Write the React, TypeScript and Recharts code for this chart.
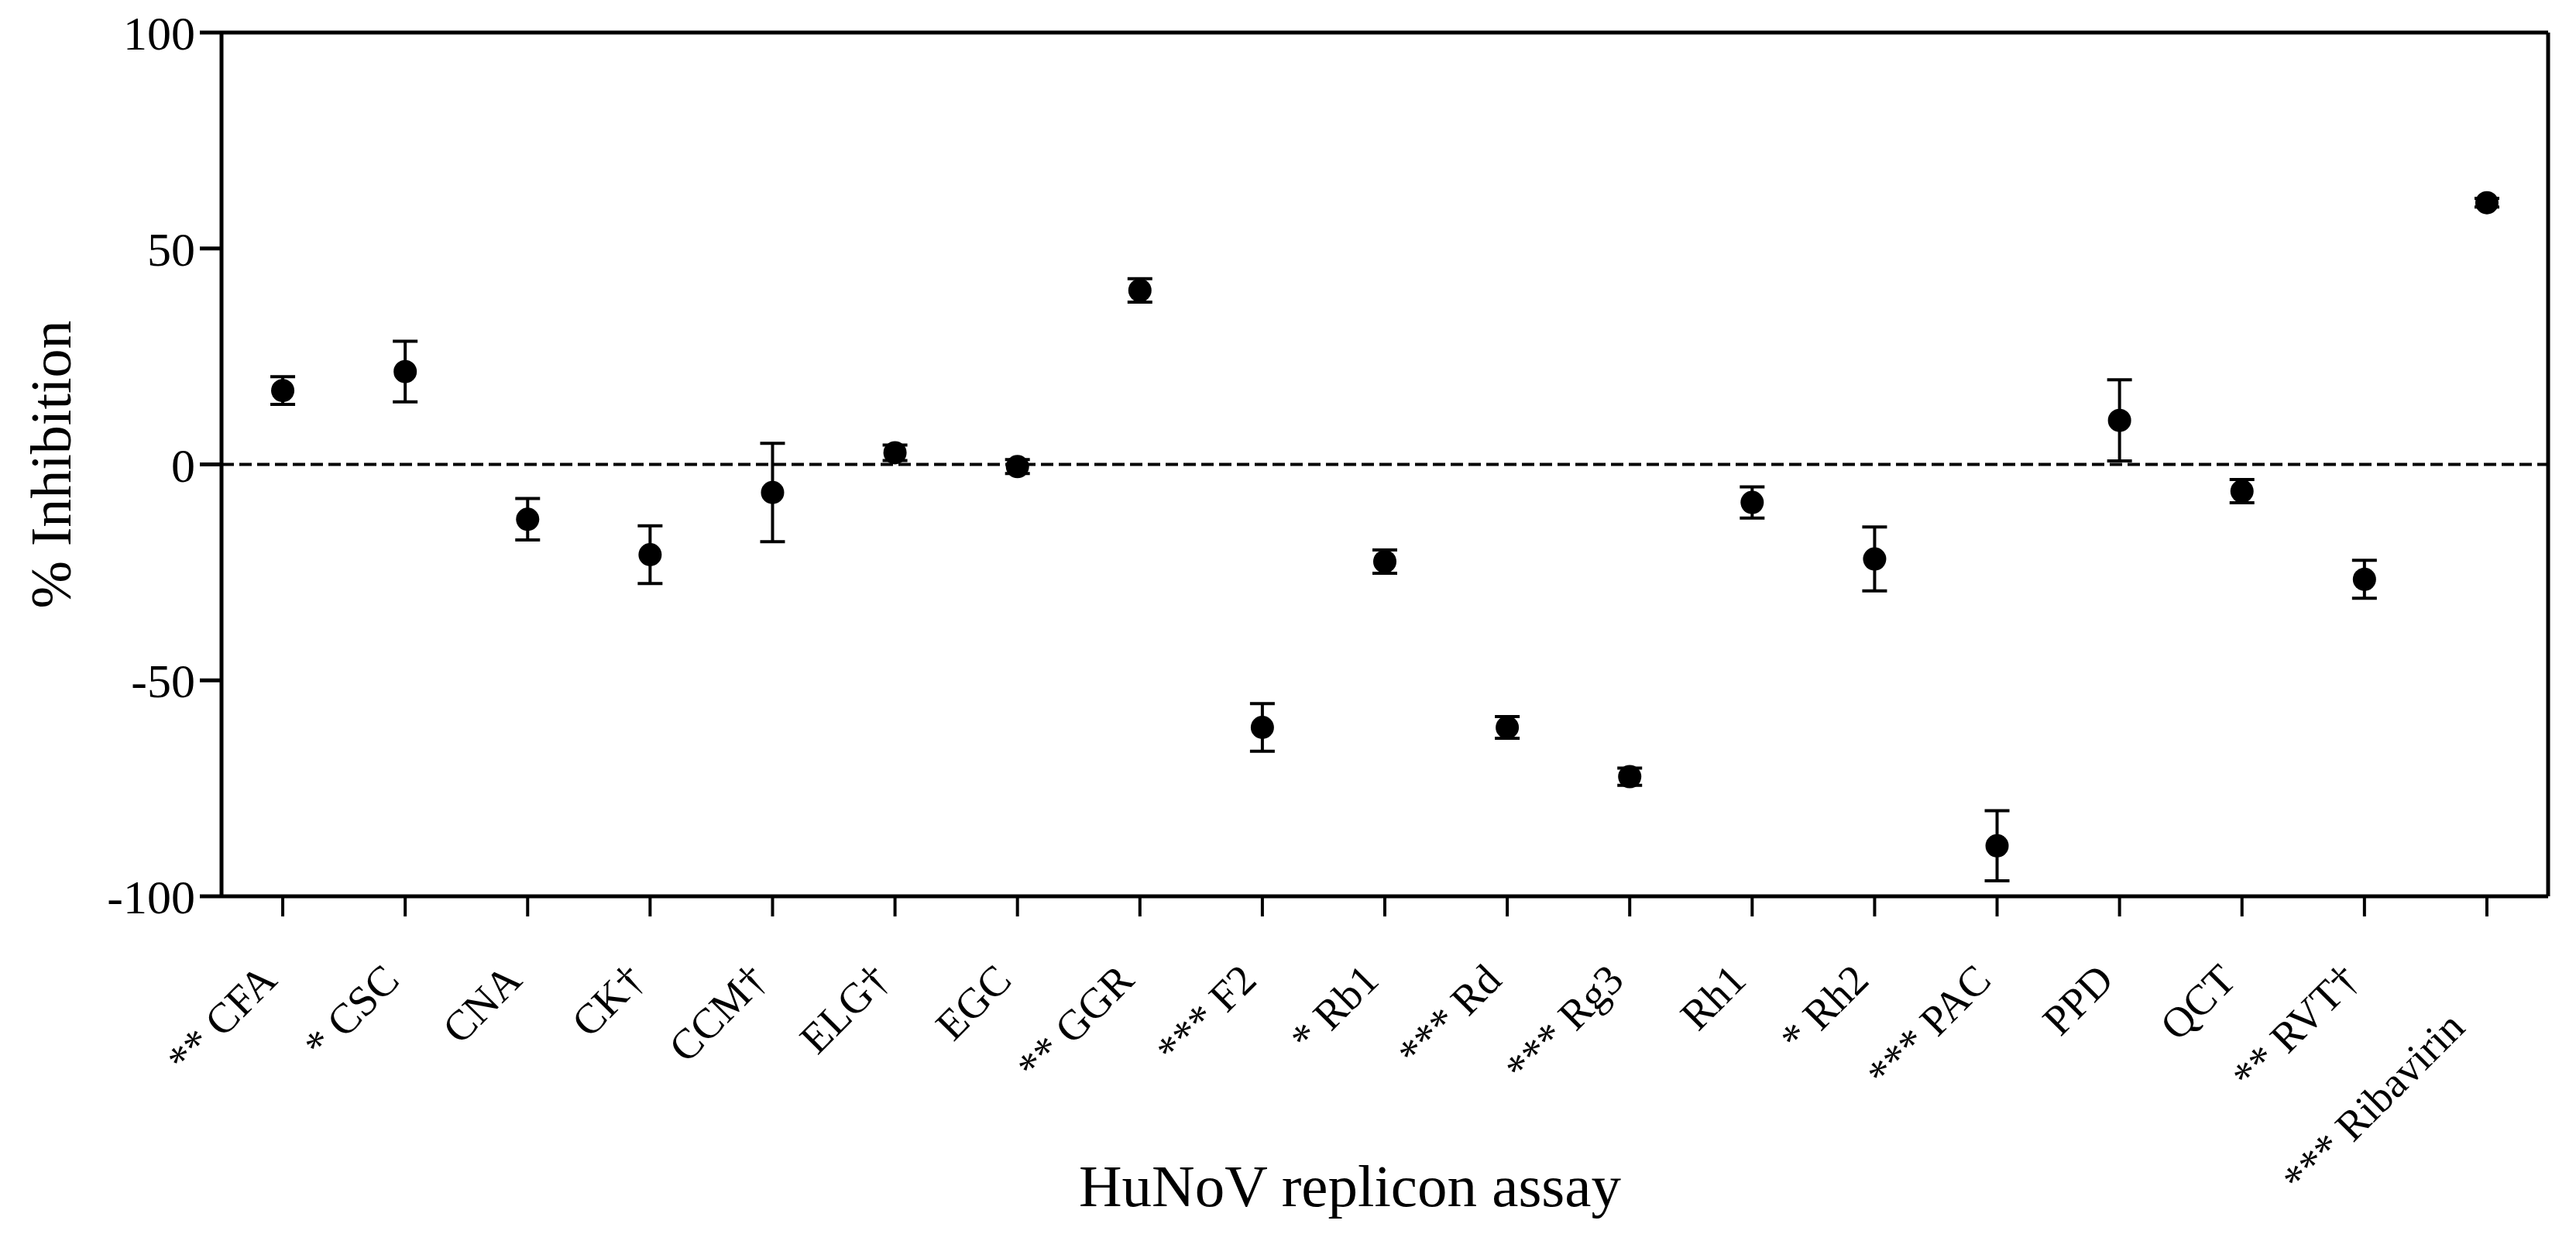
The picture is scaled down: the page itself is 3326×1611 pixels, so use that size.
import React from "react";
import {
  ComposedChart,
  Line,
  XAxis,
  YAxis,
  ErrorBar,
  ReferenceLine,
} from "recharts";

const categories = [
  "** CFA",
  "* CSC",
  "CNA",
  "CK\u2020",
  "CCM\u2020",
  "ELG\u2020",
  "EGC",
  "** GGR",
  "*** F2",
  "* Rb1",
  "*** Rd",
  "*** Rg3",
  "Rh1",
  "* Rh2",
  "*** PAC",
  "PPD",
  "QCT",
  "** RVT\u2020",
  "*** Ribavirin",
];

const inhibition = [
  17.1, 21.5, -12.7, -20.9, -6.5, 2.7, -0.5, 40.3, -60.9, -22.5, -60.9, -72.3,
  -8.8, -21.9, -88.3, 10.2, -6.2, -26.6, 60.6,
];

const sem = [
  3.2, 7.0, 4.8, 6.7, 11.4, 1.8, 1.6, 2.7, 5.5, 2.7, 2.5, 2.0, 3.6, 7.4, 8.1,
  9.4, 2.7, 4.4, 1.0,
];

const yTicks = [-100, -50, 0, 50, 100];

const data = categories.map((name, i) => ({
  name,
  value: inhibition[i],
  err: sem[i],
}));

const FONT = "'Liberation Serif', 'Times New Roman', serif";

const XTick = (props: any) => {
  const { x, y, payload, index } = props;
  const last = index === categories.length - 1;
  const dx = last ? -26 : -5;
  const dy = last ? 146 : 85;
  return (
    <g transform={`translate(${x + dx},${y + dy})`}>
      <text
        x={0}
        y={0}
        textAnchor="end"
        transform="rotate(-45)"
        fontSize={55}
        fontFamily={FONT}
        fill="#000"
      >
        {payload.value}
      </text>
    </g>
  );
};

const XTitle = (props: any) => {
  const { viewBox } = props;
  if (!viewBox) return null;
  return (
    <text
      x={viewBox.x + viewBox.width / 2 - 45}
      y={viewBox.y + 400}
      textAnchor="middle"
      fontSize={77}
      fontFamily={FONT}
      fill="#000"
    >
      HuNoV replicon assay
    </text>
  );
};

const YTitle = (props: any) => {
  const { viewBox } = props;
  if (!viewBox) return null;
  const cx = viewBox.x + 58;
  const cy = viewBox.y + viewBox.height / 2;
  return (
    <text
      x={cx}
      y={cy}
      textAnchor="middle"
      dominantBaseline="central"
      transform={`rotate(-90, ${cx}, ${cy})`}
      fontSize={74}
      fontFamily={FONT}
      fill="#000"
    >
      % Inhibition
    </text>
  );
};

const Dot = (props: any) => {
  const { cx, cy, index } = props;
  if (cx == null || cy == null) return <g key={`d-${index}`} />;
  return <circle key={`d-${index}`} cx={cx} cy={cy} r={15} fill="#000" />;
};

export default function App() {
  return (
    <div style={{ width: 3310, height: 1595 }}>
      <ComposedChart
        width={3310}
        height={1595}
        data={data}
        margin={{ top: 33, right: 27, left: 0, bottom: 0 }}
      >
        <XAxis
          dataKey="name"
          type="category"
          scale="band"
          xAxisId={0}
          height={446}
          interval={0}
          tickSize={26}
          tickMargin={0}
          axisLine={{ stroke: "#000", strokeWidth: 5 }}
          tickLine={{ stroke: "#000", strokeWidth: 4 }}
          tick={<XTick />}
          label={<XTitle />}
        />
        <XAxis
          xAxisId="top"
          orientation="top"
          dataKey="name"
          type="category"
          scale="band"
          height={1}
          tick={false}
          tickLine={false}
          axisLine={{ stroke: "#000", strokeWidth: 5 }}
        />
        <YAxis
          yAxisId={0}
          type="number"
          domain={[-100, 100]}
          ticks={yTicks}
          interval={0}
          width={278}
          tickSize={28}
          tickMargin={6}
          axisLine={{ stroke: "#000", strokeWidth: 5 }}
          tickLine={{ stroke: "#000", strokeWidth: 5 }}
          tick={{ fontSize: 62, fontFamily: FONT, fill: "#000" }}
          label={<YTitle />}
        />
        <YAxis
          yAxisId="right"
          orientation="right"
          type="number"
          domain={[-100, 100]}
          width={1}
          tick={false}
          tickLine={false}
          axisLine={{ stroke: "#000", strokeWidth: 5 }}
        />
        <ReferenceLine
          y={0}
          xAxisId={0}
          yAxisId={0}
          stroke="#000"
          strokeWidth={4}
          strokeDasharray="16 7"
        />
        <Line
          xAxisId={0}
          yAxisId={0}
          dataKey="value"
          stroke="none"
          strokeWidth={0}
          isAnimationActive={false}
          dot={<Dot />}
          activeDot={false}
        >
          <ErrorBar
            dataKey="err"
            direction="y"
            width={16}
            strokeWidth={4}
            stroke="#000"
          />
        </Line>
      </ComposedChart>
    </div>
  );
}
